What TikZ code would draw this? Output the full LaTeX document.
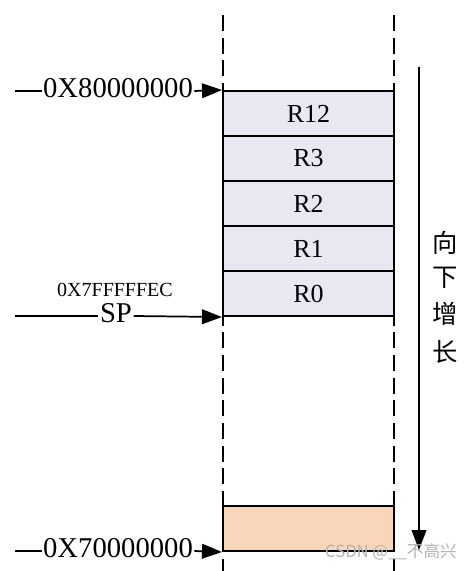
\documentclass[tikz,border=0pt]{standalone}
\usepackage{fontspec}
\setmainfont{Liberation Serif}
\newfontfamily\cjk{Noto Sans CJK SC}
\usetikzlibrary{arrows.meta}
\definecolor{regfill}{HTML}{E9E7F1}
\definecolor{freefill}{HTML}{F9D6BA}
\begin{document}
\begin{tikzpicture}[x=0.75pt,y=-0.75pt,
  reg/.style={draw, line width=1.5pt, fill=regfill, minimum width=128.25pt, minimum height=33.75pt, inner sep=0pt, font=\fontsize{19.5}{21}\selectfont},
  freebox/.style={reg, fill=freefill},
  addr/.style={inner sep=1pt, font=\fontsize{21.5}{24}\selectfont},
  small/.style={inner sep=1pt, font=\fontsize{15}{17}\selectfont},
  wire/.style={line width=1.3pt},
  arr/.style={wire, -{Triangle[length=15pt,width=11pt]}},
  bound/.style={line width=1.5pt, dash pattern=on 12pt off 5pt},
  growarr/.style={line width=1.2pt, -{Triangle[length=15pt,width=11pt]}},
  zh/.style={inner sep=0pt, font=\cjk\fontsize{19}{21}\selectfont},
  wm/.style={inner sep=0pt, text=black!30, font=\cjk\fontsize{12.5}{14}\selectfont}]
\path[use as bounding box] (0,0) rectangle (473,571);
% boundary dashed lines
\coordinate (dl1) at (223,15);
\coordinate (dl2) at (223,571);
\coordinate (dr1) at (394,15);
\coordinate (dr2) at (394,571);
\draw[bound] (dl1) -- (dl2);
\draw[bound] (dr1) -- (dr2);
% registers
\node[reg] (r12) at (308.5,113.5) {R12};
\node[reg] (r3) at (308.5,158.5) {R3};
\node[reg] (r2) at (308.5,203.5) {R2};
\node[reg] (r1) at (308.5,248.5) {R1};
\node[reg] (r0) at (308.5,293.5) {R0};
\node[freebox] (free) at (308.5,528.5) {};
% top address
\coordinate (s8) at (15,91);
\node[addr] (a8) at (118,88.5) {0X80000000};
\draw[wire] (s8) -- (a8.west |- s8);
\draw[arr] (a8.east |- s8) -- (r12.north west);
% SP
\coordinate (ssp) at (15,316);
\node[small] (spaddr) at (115,290) {0X7FFFFFEC};
\node[addr] (sp) at (116,313) {SP};
\draw[wire] (ssp) -- (sp.west |- ssp);
\draw[arr] (sp.east |- ssp) -- (r0.south west);
% bottom address
\coordinate (s7) at (15,551);
\node[addr] (a7) at (118,548) {0X70000000};
\draw[wire] (s7) -- (a7.west |- s7);
\draw[arr] (a7.east |- s7) -- (free.south west);
% growth arrow
\coordinate (g1) at (419,67);
\coordinate (g2) at (419,550);
\draw[growarr] (g1) -- (g2);
\node[zh] (c1) at (445,243) {向};
\node[zh] (c2) at (445,278) {下};
\node[zh] (c3) at (445,314) {增};
\node[zh] (c4) at (445,352) {长};
% watermark
\node[wm] (wmk) at (391,552) {CSDN @\_\_不高兴};
\end{tikzpicture}
\end{document}
